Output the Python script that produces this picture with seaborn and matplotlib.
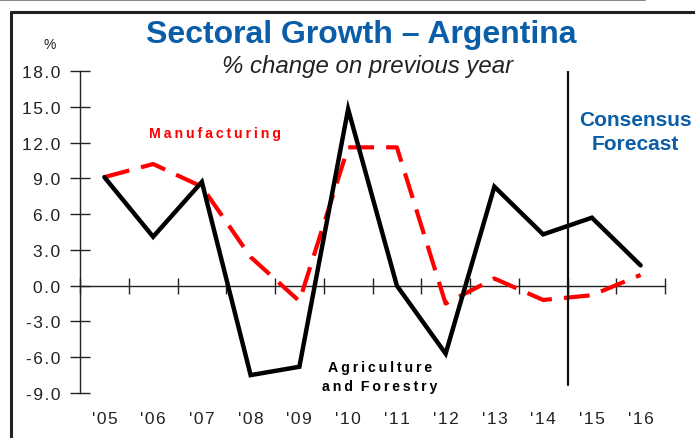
import matplotlib
matplotlib.use("Agg")
import matplotlib.pyplot as plt
from matplotlib.lines import Line2D
import seaborn as sns
import pandas as pd
import numpy as np

# Annual % change by sector
years = ["'05", "'06", "'07", "'08", "'09", "'10", "'11", "'12", "'13", "'14", "'15", "'16"]
agriculture = [9.1, 4.1, 8.7, -7.5, -6.8, 14.8, 0.0, -5.7, 8.3, 4.3, 5.7, 1.7]
manufacturing = [9.1, 10.2, 8.3, 2.4, -1.3, 11.6, 11.6, -1.5, 0.6, -1.2, -0.8, 0.9]
y_ticks = [-9.0, -6.0, -3.0, 0.0, 3.0, 6.0, 9.0, 12.0, 15.0, 18.0]

sns.set_style("white")
plt.rcParams["font.family"] = ["Liberation Sans", "DejaVu Sans"]

THIN = "\u2009"
HAIR = "\u200a"


def spaced(s, gap=THIN):
    """Letter-spaced text, the way the chart's labels are set."""
    return gap.join(s)


df = pd.DataFrame({"pos": np.arange(len(years)),
                   "Agriculture": agriculture,
                   "Manufacturing": manufacturing})

W, H = 695, 439
fig = plt.figure(figsize=(W / 100, H / 100), dpi=100)
ax = fig.add_axes([80 / W, 1 - 394 / H, 585 / W, 322 / H])

sns.lineplot(data=df, x="pos", y="Manufacturing", ax=ax, color="#ff0000",
             lw=3.0, zorder=3)
ax.lines[-1].set_dashes((6.2, 2.9))
ax.lines[-1].set_dash_capstyle("butt")
sns.lineplot(data=df, x="pos", y="Agriculture", ax=ax, color="black",
             lw=3.2, zorder=4)
ax.lines[-1].set_solid_joinstyle("miter")

ax.set_xlim(-0.5, len(years) - 0.5)
ax.set_ylim(-9, 18)
ax.set_xlabel("")
ax.set_ylabel("")

# Axes: left spine and a zero line carrying the category ticks
for side in ("top", "right"):
    ax.spines[side].set_visible(False)
ax.spines["bottom"].set_position(("data", 0))
ax.spines["bottom"].set_color("#222222")
ax.spines["bottom"].set_linewidth(1.0)
ax.spines["left"].set_color("#222222")
ax.spines["left"].set_linewidth(1.0)

ax.set_yticks(y_ticks)
ax.set_yticklabels([spaced(f"{v:.1f}", HAIR) for v in y_ticks])
ax.tick_params(axis="y", left=True, direction="inout", length=14, width=1.0,
               color="#222222", labelsize=12.5, labelcolor="#222222", pad=7)

ax.set_xticks(np.arange(-0.5, len(years)))
ax.set_xticklabels([])
ax.tick_params(axis="x", bottom=True, direction="inout", length=11,
               width=1.0, color="#222222")
for i, lab in enumerate(years):
    ax.text(i, -11.15, spaced(lab, HAIR), ha="center", va="center",
            fontsize=12.5, color="#222222")

# Forecast divider
ax.plot([9.5, 9.5], [-8.3, 18], color="#111111", lw=1.6, zorder=5)

# Series labels
ax.text(2.26, 12.8, spaced("Manufacturing"), color="#ff0000",
        fontsize=10.2, fontweight="bold", ha="center", va="center")
ax.text(5.65, -6.8, spaced("Agriculture"), color="black",
        fontsize=10.2, fontweight="bold", ha="center", va="center")
ax.text(5.65, -8.45, spaced("and") + "  " + spaced("Forestry"), color="black",
        fontsize=10.2, fontweight="bold", ha="center", va="center")
ax.text(10.9, 13.9, "Consensus", color="#0a5ea8", fontsize=15,
        fontweight="bold", ha="center", va="center")
ax.text(10.9, 11.9, "Forecast", color="#0a5ea8", fontsize=15,
        fontweight="bold", ha="center", va="center")

# Titles
fig.text(361 / W, 1 - 35 / H, "Sectoral Growth \u2013 Argentina",
         color="#0a5ea8", fontsize=23, fontweight="bold",
         ha="center", va="center")
fig.text(368 / W, 1 - 66 / H, "% change on previous year",
         color="#222222", fontsize=17.3, style="italic",
         ha="center", va="center")
fig.text(50 / W, 1 - 45 / H, "%", color="#222222", fontsize=10,
         ha="center", va="center")

# Outer frame
fx, fy = 11 / W, 1 - 13 / H
fig.add_artist(Line2D([fx, fx], [0, fy], color="#222222", lw=2.2))
fig.add_artist(Line2D([fx, 1], [fy, fy], color="#222222", lw=2.2))
fig.add_artist(Line2D([0, 645 / W], [1 - 0.5 / H, 1 - 0.5 / H],
                      color="#888888", lw=1.5))

fig.savefig("out.png", dpi=100)
